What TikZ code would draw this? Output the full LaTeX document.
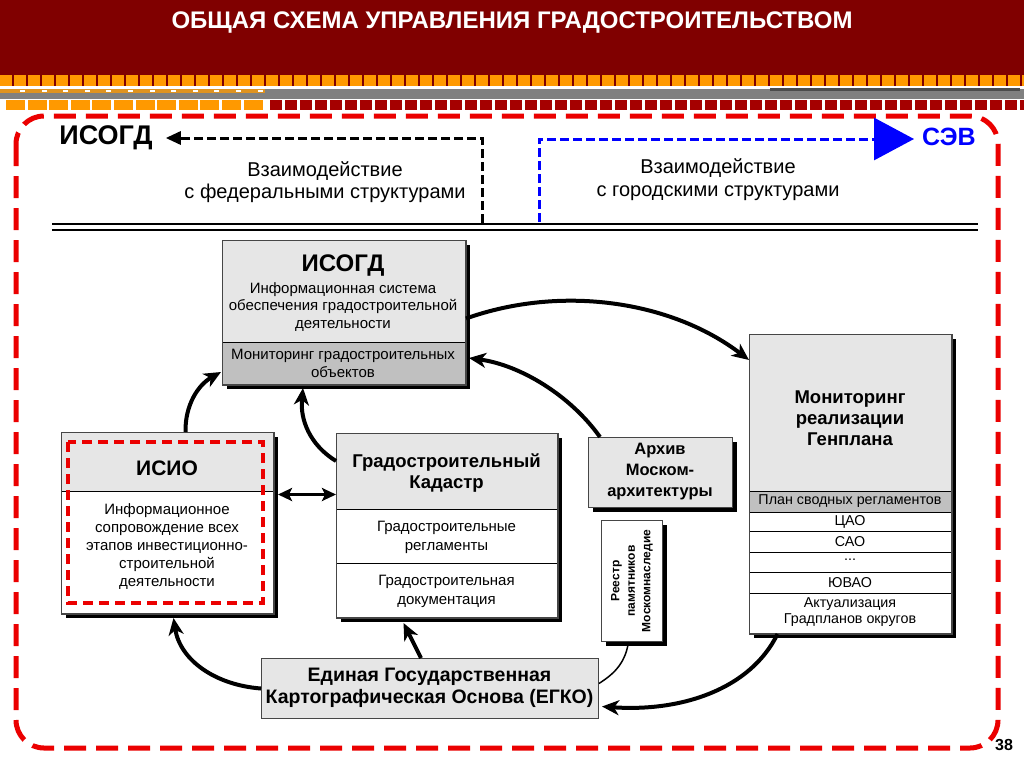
\documentclass[tikz,border=0pt]{standalone}
\usepackage{fontspec}
\setmainfont{Liberation Sans}
\usetikzlibrary{arrows.meta}
\definecolor{headred}{RGB}{128,0,0}
\definecolor{orng}{RGB}{255,153,0}
\definecolor{sqred}{RGB}{165,0,0}
\definecolor{bandgray}{RGB}{128,128,128}
\definecolor{framered}{RGB}{235,0,0}
\definecolor{lg}{RGB}{230,230,230}
\definecolor{mg}{RGB}{192,192,192}
\definecolor{boxline}{RGB}{70,70,70}
\newcommand\fsz[2]{\fontsize{#1}{#2}\selectfont}
\begin{document}
\begin{tikzpicture}[x=1pt,y=-1pt,
  txt/.style={inner sep=0pt, align=center},
  shbox/.style={draw=boxline, line width=1pt, inner sep=0pt, anchor=north west,
     preaction={fill=black, transform canvas={xshift=4pt,yshift=-4pt}}},
  plainbox/.style={draw=boxline, line width=1pt, inner sep=0pt, anchor=north west},
  conn/.style={line width=4pt, -{Stealth[length=17pt,width=15pt,inset=5pt]}},
  divl/.style={line width=1pt, draw=black},
]
\useasboundingbox (0,0) rectangle (1024,768);
\fill[white] (0,0) rectangle (1024,768);
% header
\fill[headred] (0,0) rectangle (1024,86);
\foreach \i in {0,...,73} {\fill[orng] (\i*14,75) rectangle (\i*14+12,86);}
\fill[white] (0,86) rectangle (1024,89);
\fill[bandgray] (0,89) rectangle (1024,99);
\fill[orng!75!bandgray] (0,89) rectangle (265,92.5);
\foreach \i in {0,...,11} {\fill[white] (20+\i*21.6,89.5) rectangle (25+\i*21.6,92);}
\fill[black!70] (770,88) rectangle (1020,90.5);
\foreach \i in {0,...,11} {\fill[orng] (6+\i*21.6,100) rectangle (25+\i*21.6,110);}
\foreach \i in {0,...,50} {\fill[sqred] (270+\i*15,100) rectangle (282+\i*15,110);}
\node[txt, text=white, font=\bfseries\fsz{24}{24}] (title) at (512,23) {ОБЩАЯ СХЕМА УПРАВЛЕНИЯ ГРАДОСТРОИТЕЛЬСТВОМ};

% outer dashed frame
\draw[framered, line width=5pt, dash pattern=on 22pt off 10pt, rounded corners=28pt]
  (16,116) rectangle (998,748);

% top labels
\node[txt, font=\bfseries\fsz{27}{27}] (isogdlbl) at (106,138) {ИСОГД};
\node[txt, font=\bfseries\fsz{25}{25}, text=blue] (sev) at (949,137) {СЭВ};
\node[txt, font=\fsz{20}{22}] (fedtxt) at (325,182) {Взаимодействие\\с федеральными структурами};
\node[txt, font=\fsz{20}{23}] (citytxt) at (718,179.5) {Взаимодействие\\с городскими структурами};

% double line
\draw[line width=2.5pt] (52,224) -- (978,224);
\draw[line width=2.5pt] (52,230) -- (978,230);
\coordinate (fedfoot) at (482,223);
\coordinate (cityfoot) at (539,222);
\draw[line width=3pt, dash pattern=on 9pt off 4pt, -{Triangle[length=15pt,width=13pt]}]
  (fedfoot) |- ([xshift=13pt,yshift=0pt]isogdlbl.east);
\draw[blue, line width=3pt, dash pattern=on 9pt off 4pt, -{Triangle[length=40pt,width=42pt]}]
  (cityfoot) |- ([xshift=-8pt,yshift=-2pt]sev.west);

% ISOGD box
\node[shbox, fill=lg, minimum width=243pt, minimum height=144pt] (isogd) at (222,240) {};
\fill[mg] (222,342) rectangle (465,384);
\draw[divl] (222,342) -- (465,342);
\draw[boxline, line width=1pt] (isogd.north west) rectangle (isogd.south east);
\node[txt, font=\bfseries\fsz{24}{24}] (isogdt) at (343,266) {ИСОГД};
\node[txt, font=\fsz{15}{17.5}] (isogdd) at (343,307) {Информационная система\\обеспечения градостроительной\\деятельности};
\node[txt, font=\fsz{15}{17.5}] (isogdm) at (343,363.5) {Мониторинг градостроительных\\объектов};

% ISIO box
\node[shbox, fill=white, minimum width=212pt, minimum height=181pt] (isio) at (61,432) {};
\fill[lg] (61,432) rectangle (273,491);
\draw[divl] (61,491) -- (273,491);
\draw[boxline, line width=1pt] (isio.north west) rectangle (isio.south east);
\draw[framered, line width=3.3pt, dash pattern=on 10pt off 6pt] (68,442) rectangle (263,603);
\node[txt, font=\bfseries\fsz{21}{21}] (isiot) at (167,468) {ИСИО};
\node[txt, font=\fsz{15}{18}] (isiod) at (167,547) {Информационное\\сопровождение всех\\этапов инвестиционно-\\строительной\\деятельности};

% Kadastr box
\node[shbox, fill=white, minimum width=221pt, minimum height=184pt] (kad) at (336,433) {};
\fill[lg] (336,433) rectangle (557,509);
\draw[divl] (336,509) -- (557,509);
\draw[divl] (336,563) -- (557,563);
\draw[boxline, line width=1pt] (kad.north west) rectangle (kad.south east);
\node[txt, font=\bfseries\fsz{18.5}{20.5}] (kadt) at (446.5,473) {Градостроительный\\Кадастр};
\node[txt, font=\fsz{15}{19}] (kadr) at (446.5,537.5) {Градостроительные\\регламенты};
\node[txt, font=\fsz{15}{19}] (kadd) at (446.5,591) {Градостроительная\\документация};

% Archive box
\node[shbox, fill=lg, minimum width=144pt, minimum height=70pt] (arch) at (588,437) {};
\node[txt, font=\bfseries\fsz{16.5}{21}] (archt) at (660,472) {Архив\\Моском-\\архитектуры};

% Monitoring box
\node[shbox, fill=white, minimum width=202pt, minimum height=299pt] (mon) at (749,334) {};
\fill[lg] (749,334) rectangle (951,491);
\fill[mg] (749,491) rectangle (951,512);
\foreach \yy in {491,512,531,552,572,593} {\draw[divl] (749,\yy) -- (951,\yy);}
\draw[boxline, line width=1pt] (mon.north west) rectangle (mon.south east);
\node[txt, font=\bfseries\fsz{18.5}{21}] (mont) at (850,418) {Мониторинг\\реализации\\Генплана};
\node[txt, font=\fsz{14.3}{16}] (monp) at (850,501.5) {План сводных регламентов};
\node[txt, font=\fsz{14.3}{16}] (mon1) at (850,521.5) {ЦАО};
\node[txt, font=\fsz{14.3}{16}] (mon2) at (850,541.5) {САО};
\node[txt, font=\fsz{14.3}{16}] (mon3) at (850,560) {...};
\node[txt, font=\fsz{14.3}{16}] (mon4) at (850,582.5) {ЮВАО};
\node[txt, font=\fsz{14.3}{16}] (mon5) at (850,612.5) {Актуализация\\Градпланов округов};

% Reestr box
\node[shbox, fill=white, minimum width=61pt, minimum height=121pt] (reg) at (601,520) {};
\node[txt, font=\bfseries\fsz{12}{15.5}, rotate=90] (regt) at (632,581) {Реестр\\памятников\\Москомнаследие};

% EGKO box
\node[plainbox, fill=lg, minimum width=337pt, minimum height=60pt] (egko) at (261,658) {};
\node[txt, font=\bfseries\fsz{19.5}{22}] (egkot) at (429.5,688) {Единая Государственная\\Картографическая Основа (ЕГКО)};

% page number
\node[txt, font=\bfseries\fsz{16}{16}] (pnum) at (1004,745) {38};

% connectors
\draw[conn] ([yshift=-6pt]isogd.east) .. controls (560,285) and (670,300) .. ([yshift=-26pt]mon.north west);
\draw[conn] ([xshift=12pt]arch.north west) .. controls (570,395) and (520,365) .. ([xshift=3pt,yshift=27pt]isogd.south east);
\draw[conn] ([xshift=18pt]isio.north) .. controls (185,405) and (198,385) .. ([xshift=-1pt,yshift=13pt]isogd.south west);
\draw[conn] ([yshift=-28pt]kad.north west) .. controls (310,445) and (300,420) .. ([xshift=81pt,yshift=-3pt]isogd.south west);
\draw[conn] (egko.west) .. controls (215,685) and (180,660) .. ([xshift=6pt,yshift=-4pt]isio.south);
\draw[conn] ([xshift=-9pt]egko.north) -- ([xshift=-43.5pt,yshift=-5pt]kad.south);
\draw[conn] ([xshift=-73pt]mon.south) .. controls (750,690) and (680,712) .. ([xshift=3pt,yshift=-18pt]egko.east);
\draw[line width=1.5pt] ([xshift=-3.5pt]reg.south) .. controls (625,665) and (612,675) .. ([yshift=5pt]egko.east);
\draw[line width=3.5pt, {Stealth[length=14pt,width=13pt,inset=3pt]}-{Stealth[length=14pt,width=13pt,inset=3pt]}]
  ([xshift=4pt,yshift=28.5pt]isio.east) -- ([yshift=31pt]kad.west);
\end{tikzpicture}
\end{document}
